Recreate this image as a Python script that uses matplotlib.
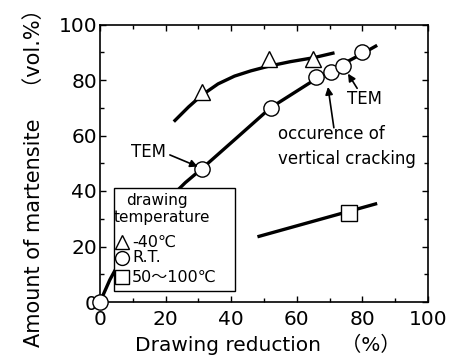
import matplotlib.pyplot as plt
from matplotlib.patches import Rectangle

plt.rcParams['font.family'] = ['DejaVu Sans', 'Noto Sans CJK JP']

# -40C series
tri_x = [31, 51.5, 65]
tri_y = [75.5, 87.5, 87.5]
tri_curve_x = [22.5, 27, 31, 36, 41, 46, 51.5, 58, 65, 71.5]
tri_curve_y = [65, 70.3, 74.5, 78.6, 81.4, 83.3, 85, 86.6, 88, 89.8]

# room temperature series
rt_x = [0, 31, 52, 66, 70.5, 74, 80]
rt_y = [0, 48, 70, 81, 83, 85, 90]
rt_curve_x = [0, 3, 6, 10, 15, 20, 26, 31, 42, 52, 60, 66, 71, 76, 80, 84.5]
rt_curve_y = [0, 8, 14.5, 21.5, 29, 36, 43, 48, 59.5, 70, 76, 80.5, 83.5, 87, 89.5, 92.5]

# 50-100C series
sq_x = [76]
sq_y = [32]
sq_curve_x = [48, 84.5]
sq_curve_y = [23.5, 35.5]

leg_labels = ['-40℃', 'R.T.', '50～100℃']
leg_markers = ['^', 'o', 's']

fig = plt.figure(figsize=(4.64, 3.58), dpi=100)
ax = fig.add_axes([100/464, 56/358, 328/464, 277.5/358])

lw = 2.4
for cx, cy in [(tri_curve_x, tri_curve_y), (rt_curve_x, rt_curve_y), (sq_curve_x, sq_curve_y)]:
    ax.plot(cx, cy, color='black', lw=lw, zorder=2, solid_capstyle='butt')

mk = dict(mfc='white', mec='black', mew=1.0, ls='none', zorder=3, clip_on=False)
ax.plot(tri_x, tri_y, '^', ms=11.5, **mk)
ax.plot(rt_x, rt_y, 'o', ms=11, **mk)
ax.plot(sq_x, sq_y, 's', ms=11, **mk)

ax.set_xlim(0, 100)
ax.set_ylim(0, 100)
ax.set_xticks([0, 20, 40, 60, 80, 100])
ax.set_yticks([0, 20, 40, 60, 80, 100])
ax.set_xticks(range(10, 100, 20), minor=True)
ax.set_yticks(range(10, 100, 20), minor=True)
ax.tick_params(which='both', direction='in', top=True, right=True, labelsize=14.5)
ax.tick_params(axis='x', pad=6)
ax.tick_params(axis='y', pad=2)
ax.tick_params(which='major', length=4, width=1)
ax.tick_params(which='minor', length=3, width=1)
for s in ax.spines.values():
    s.set_linewidth(1.2)

ax.set_xlabel('Drawing reduction\u3000（%）', fontsize=14.5)
ax.xaxis.set_label_coords(0.51, -0.115)
ax.set_ylabel('Amount of martensite\u3000（vol.%）', fontsize=15)
ax.yaxis.set_label_coords(-0.17, 0.465)

# annotations
arr = dict(arrowstyle='-|>', color='black', lw=1.2, mutation_scale=11, shrinkA=0, shrinkB=0)
ax.text(20, 54, 'TEM', fontsize=12, ha='right', va='center')
ax.annotate('', xy=(29.8, 48.8), xytext=(21.3, 53), arrowprops=arr)
ax.text(75.3, 73.3, 'TEM', fontsize=12, ha='left', va='center')
ax.annotate('', xy=(75.6, 82.3), xytext=(78.4, 77), arrowprops=arr)
ax.text(54.3, 56, 'occurence of\nvertical cracking', fontsize=12, ha='left', va='center', linespacing=1.45)
ax.annotate('', xy=(69.5, 77.5), xytext=(71.3, 62.8), arrowprops=arr)

# legend box drawn by hand
ax.add_patch(Rectangle((4.3, 4), 36.9, 37, fill=True, fc='white', ec='black', lw=1.0, zorder=4))
ax.text(17.5, 36.4, 'drawing', fontsize=11, ha='center', va='center', zorder=5)
ax.text(19.0, 30.6, 'temperature', fontsize=11, ha='center', va='center', zorder=5)
for m, lab, yy in zip(leg_markers, leg_labels, [21.5, 16.0, 9.0]):
    ax.plot([6.6], [yy], m, ms=10, mfc='white', mec='black', mew=1.0, ls='none', zorder=5)
    ax.text(9.8, yy, lab, fontsize=11.5, ha='left', va='center', zorder=5)

fig.savefig('out.png', dpi=100)
